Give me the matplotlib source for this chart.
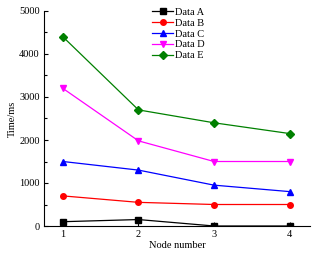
import matplotlib
matplotlib.use('Agg')
import matplotlib.pyplot as plt
from matplotlib.ticker import MultipleLocator

plt.rcParams['font.family'] = 'Liberation Serif'
plt.rcParams['font.size'] = 7.5

nodes = [1, 2, 3, 4]
data_a = [100, 150, 0, 0]
data_b = [700, 550, 500, 500]
data_c = [1500, 1300, 950, 800]
data_d = [3200, 1980, 1500, 1500]
data_e = [4400, 2700, 2400, 2150]

series = [
    ('Data A', data_a, 'black', 's'),
    ('Data B', data_b, 'red', 'o'),
    ('Data C', data_c, 'blue', '^'),
    ('Data D', data_d, 'magenta', 'v'),
    ('Data E', data_e, 'green', 'D'),
]

fig = plt.figure(figsize=(3.12, 2.54), dpi=100)
ax = fig.add_axes([44 / 312, 28 / 254, 266 / 312, 215 / 254])

for name, vals, col, mk in series:
    ax.plot(nodes, vals, color=col, marker=mk, markersize=4, linewidth=0.9, label=name)

ax.set_xlim(0.75, 4.27)
ax.set_ylim(0, 5000)
ax.set_xticks(nodes)
ax.yaxis.set_major_locator(MultipleLocator(1000))
ax.yaxis.set_minor_locator(MultipleLocator(500))
ax.tick_params(direction='in', length=3, width=0.8, pad=3)
ax.tick_params(which='minor', direction='in', length=2, width=0.8)
ax.spines['top'].set_visible(False)
ax.spines['right'].set_visible(False)
ax.set_xlabel('Node number', labelpad=1)
ax.set_ylabel('Time/ms', labelpad=2)

ax.legend(loc='upper left', bbox_to_anchor=(0.38, 1.05), frameon=False,
          handlelength=2.0, handletextpad=0.2, labelspacing=0.15, borderpad=0.2,
          fontsize=7.5)

fig.savefig('out.png', dpi=100)
